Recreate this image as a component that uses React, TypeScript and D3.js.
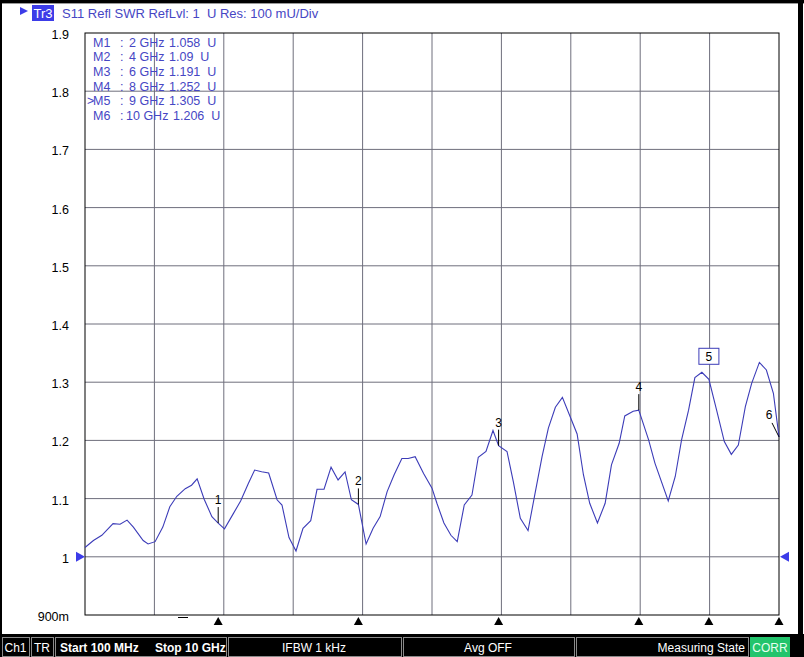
import React from 'react';
import * as d3 from 'd3';

// trace S11 SWR (GHz / U)
const freqGHz = [
	0.1, 0.22, 0.34, 0.5, 0.6, 0.7, 0.79, 0.93, 1.0, 1.1, 1.21, 1.31, 1.41, 1.53, 1.62, 1.7, 1.8, 1.91,
	2.0, 2.09, 2.22, 2.32, 2.43, 2.52, 2.62, 2.72, 2.84, 2.91, 3.01, 3.11, 3.21, 3.32, 3.41, 3.51, 3.61,
	3.71, 3.81, 3.9, 4.0, 4.11, 4.21, 4.31, 4.41, 4.51, 4.62, 4.71, 4.81, 4.93, 5.05, 5.12, 5.22, 5.32,
	5.41, 5.51, 5.62, 5.71, 5.82, 5.92, 6.0, 6.12, 6.21, 6.31, 6.42, 6.52, 6.62, 6.71, 6.81, 6.91, 7.03,
	7.12, 7.21, 7.3, 7.41, 7.52, 7.61, 7.72, 7.8, 7.92, 8.0, 8.14, 8.23, 8.42, 8.52, 8.61, 8.71, 8.8,
	8.9, 9.0, 9.11, 9.22, 9.32, 9.42, 9.52, 9.61, 9.72, 9.82, 9.92, 10.0
];
const swrValues = [
	1.016, 1.028, 1.037, 1.057, 1.056, 1.063, 1.051, 1.028, 1.022, 1.026, 1.051, 1.086, 1.104, 1.117, 1.123, 1.134, 1.099, 1.069,
	1.058, 1.048, 1.075, 1.096, 1.126, 1.149, 1.146, 1.144, 1.098, 1.089, 1.033, 1.01, 1.049, 1.062, 1.116, 1.116, 1.154,
	1.132, 1.146, 1.098, 1.09, 1.022, 1.049, 1.069, 1.112, 1.141, 1.169, 1.169, 1.172, 1.143, 1.118, 1.092, 1.058, 1.037,
	1.026, 1.089, 1.106, 1.171, 1.181, 1.217, 1.191, 1.181, 1.129, 1.066, 1.045, 1.109, 1.172, 1.221, 1.257, 1.274, 1.238,
	1.211, 1.141, 1.092, 1.058, 1.092, 1.158, 1.195, 1.242, 1.25, 1.252, 1.201, 1.161, 1.096, 1.138, 1.201, 1.252, 1.308,
	1.317, 1.305, 1.252, 1.198, 1.176, 1.192, 1.258, 1.298, 1.334, 1.321, 1.281, 1.206
];

const markerNames = ['M1', 'M2', 'M3', 'M4', 'M5', 'M6'];
const markerFreqs = [2, 4, 6, 8, 9, 10];
const markerSwr = [1.058, 1.09, 1.191, 1.252, 1.305, 1.206];
const markerValueLabels = ['1.058', '1.09', '1.191', '1.252', '1.305', '1.206'];
const activeMarker = 4;

const yTickValues = [1.9, 1.8, 1.7, 1.6, 1.5, 1.4, 1.3, 1.2, 1.1, 1.0, 0.9];
const yTickLabels = ['1.9', '1.8', '1.7', '1.6', '1.5', '1.4', '1.3', '1.2', '1.1', '1', '900m'];

const headerText = 'S11 Refl SWR RefLvl: 1  U Res: 100 mU/Div';
const statusLabels = ['Ch1', 'TR', 'Start 100 MHz', 'Stop 10 GHz', 'IFBW 1 kHz', 'Avg OFF', 'Measuring State', 'CORR'];

class App extends React.Component {
	componentDidMount() {
		this.drawChart();
	}

	drawChart() {
		const w = 804;
		const h = 657;
		const left = 85, right = 779, top = 33, bottom = 615;
		const blue = '#4646c4';
		const gridColor = '#6e6e7c';
		const font = '"Liberation Sans", Arial, sans-serif';

		const root = d3.select('#chart');
		root.selectAll('*').remove();

		const svg = root
			.append('svg')
			.attr('width', w)
			.attr('height', h)
			.style('position', 'absolute')
			.style('left', '0px')
			.style('top', '0px')
			.style('font-family', font);

		const xScale = d3.scaleLinear().domain([0.1, 10]).range([left, right]);
		const yScale = d3.scaleLinear().domain([0.9, 1.9]).range([bottom, top]);

		// screen frame
		svg.append('rect').attr('width', w).attr('height', h).attr('fill', 'white');
		svg.append('rect').attr('x', 0).attr('y', 0).attr('width', w).attr('height', 3).attr('fill', 'black');
		svg.append('rect').attr('x', 0).attr('y', 3).attr('width', w).attr('height', 1).attr('fill', '#999');
		svg.append('rect').attr('x', 0).attr('y', 0).attr('width', 2).attr('height', h).attr('fill', 'black');
		svg.append('rect').attr('x', 798).attr('y', 0).attr('width', 5).attr('height', h).attr('fill', 'black');

		// header
		svg.append('path')
			.attr('d', 'M20,7 L28,11 L20,15 Z')
			.attr('fill', '#3c3ce8');
		svg.append('rect').attr('x', 32).attr('y', 5).attr('width', 22).attr('height', 16).attr('fill', '#3c3ce8');
		svg.append('text')
			.attr('x', 43).attr('y', 18)
			.attr('text-anchor', 'middle')
			.attr('font-size', 13)
			.attr('fill', 'white')
			.text('Tr3');
		svg.append('text')
			.attr('x', 62).attr('y', 18)
			.attr('font-size', 13)
			.attr('fill', blue)
			.style('white-space', 'pre')
			.text(headerText);

		// grid
		const xGrid = d3.range(11).map(i => 0.1 + i * 0.99);
		svg.selectAll('line.vgrid')
			.data(xGrid.slice(1, 10))
			.enter()
			.append('line')
			.attr('class', 'vgrid')
			.attr('x1', d => xScale(d)).attr('x2', d => xScale(d))
			.attr('y1', top).attr('y2', bottom)
			.attr('stroke', gridColor)
			.attr('stroke-width', 1);
		svg.selectAll('line.hgrid')
			.data(yTickValues.slice(1, 10))
			.enter()
			.append('line')
			.attr('class', 'hgrid')
			.attr('x1', left).attr('x2', right)
			.attr('y1', d => yScale(d)).attr('y2', d => yScale(d))
			.attr('stroke', gridColor)
			.attr('stroke-width', 1);
		svg.append('rect')
			.attr('x', left).attr('y', top)
			.attr('width', right - left).attr('height', bottom - top)
			.attr('fill', 'none')
			.attr('stroke', 'black')
			.attr('stroke-width', 1);

		// y labels
		svg.selectAll('text.ylab')
			.data(yTickValues)
			.enter()
			.append('text')
			.attr('class', 'ylab')
			.attr('x', 69)
			.attr('y', d => yScale(d) + 6)
			.attr('text-anchor', 'end')
			.attr('font-size', 12.5)
			.attr('fill', 'black')
			.text((d, i) => yTickLabels[i]);

		// reference level arrows
		const refY = yScale(1);
		svg.append('path')
			.attr('d', `M${left - 9},${refY - 5} L${left},${refY} L${left - 9},${refY + 5} Z`)
			.attr('fill', '#3c3ce8');
		svg.append('path')
			.attr('d', `M${right + 10},${refY - 5} L${right + 1},${refY} L${right + 10},${refY + 5} Z`)
			.attr('fill', '#3c3ce8');

		// trace
		const line = d3.line<number>()
			.x((d, i) => xScale(freqGHz[i]))
			.y(d => yScale(d));
		svg.append('path')
			.datum(swrValues)
			.attr('d', line)
			.attr('fill', 'none')
			.attr('stroke', '#3c3cb8')
			.attr('stroke-width', 1.1);

		// markers on trace
		markerFreqs.forEach((f, i) => {
			const mx = xScale(f);
			const my = yScale(markerSwr[i]);
			const num = String(i + 1);
			if (i === activeMarker) {
				svg.append('rect')
					.attr('x', mx - 10).attr('y', my - 31)
					.attr('width', 20).attr('height', 16)
					.attr('fill', 'white')
					.attr('stroke', '#3c3cb8');
				svg.append('text')
					.attr('x', mx).attr('y', my - 18)
					.attr('text-anchor', 'middle')
					.attr('font-size', 12)
					.attr('fill', 'black')
					.text(num);
			} else if (f >= 10) {
				svg.append('line')
					.attr('x1', mx - 7).attr('y1', my - 14)
					.attr('x2', mx).attr('y2', my)
					.attr('stroke', 'black');
				svg.append('text')
					.attr('x', mx - 10).attr('y', my - 18)
					.attr('text-anchor', 'middle')
					.attr('font-size', 12)
					.attr('fill', 'black')
					.text(num);
			} else {
				svg.append('line')
					.attr('x1', mx).attr('y1', my - 16)
					.attr('x2', mx).attr('y2', my)
					.attr('stroke', 'black');
				svg.append('text')
					.attr('x', mx).attr('y', my - 19)
					.attr('text-anchor', 'middle')
					.attr('font-size', 12)
					.attr('fill', 'black')
					.text(num);
			}
		});

		// marker triangles below the diagram
		svg.selectAll('path.mtri')
			.data(markerFreqs)
			.enter()
			.append('path')
			.attr('class', 'mtri')
			.attr('d', d => {
				const mx = xScale(d);
				return `M${mx - 4.5},${bottom + 10} L${mx},${bottom + 2} L${mx + 4.5},${bottom + 10} Z`;
			})
			.attr('fill', 'black');
		svg.append('line')
			.attr('x1', 178).attr('x2', 188)
			.attr('y1', bottom + 2.5).attr('y2', bottom + 2.5)
			.attr('stroke', 'black')
			.attr('stroke-width', 1);

		// marker list
		const rowY = (i: number) => 46.5 + i * 14.7;
		markerNames.forEach((name, i) => {
			const f = markerFreqs[i];
			const g = svg.append('g').attr('fill', blue).attr('font-size', 12.5);
			if (i === activeMarker) {
				g.append('text').attr('x', 87).attr('y', rowY(i)).text('>');
			}
			g.append('text').attr('x', 93).attr('y', rowY(i)).text(name);
			g.append('text').attr('x', 120).attr('y', rowY(i)).text(':');
			g.append('text').attr('x', f >= 10 ? 126 : 129).attr('y', rowY(i)).text(`${f} GHz`);
			g.append('text')
				.attr('x', f >= 10 ? 173 : 169)
				.attr('y', rowY(i))
				.style('white-space', 'pre')
				.text(`${markerValueLabels[i]}  U`);
		});

		// status bar
		svg.append('rect').attr('x', 0).attr('y', 634).attr('width', w).attr('height', h - 634).attr('fill', 'black');
		const boxes = [
			{ x0: 2, x1: 29 },
			{ x0: 31, x1: 53 },
			{ x0: 55, x1: 226 },
			{ x0: 228, x1: 401 },
			{ x0: 403, x1: 574 },
			{ x0: 576, x1: 748 }
		];
		boxes.forEach(b => {
			svg.append('rect')
				.attr('x', b.x0 + 0.5).attr('y', 637.5)
				.attr('width', b.x1 - b.x0).attr('height', 19)
				.attr('fill', 'black')
				.attr('stroke', '#8a8a8a');
		});
		svg.append('rect').attr('x', 750).attr('y', 637).attr('width', 40).attr('height', 20).attr('fill', '#22c46c');

		const sb = svg.append('g').attr('font-size', 12).attr('fill', 'white');
		sb.append('text').attr('x', 15.5).attr('y', 652).attr('text-anchor', 'middle').text(statusLabels[0]);
		sb.append('text').attr('x', 42).attr('y', 652).attr('text-anchor', 'middle').text(statusLabels[1]);
		sb.append('text').attr('x', 60).attr('y', 652).attr('font-weight', 'bold').text(statusLabels[2]);
		sb.append('text').attr('x', 155).attr('y', 652).attr('font-weight', 'bold').text(statusLabels[3]);
		sb.append('text').attr('x', 314).attr('y', 652).attr('text-anchor', 'middle').text(statusLabels[4]);
		sb.append('text').attr('x', 488).attr('y', 652).attr('text-anchor', 'middle').text(statusLabels[5]);
		sb.append('text').attr('x', 745).attr('y', 652).attr('text-anchor', 'end').text(statusLabels[6]);
		sb.append('text').attr('x', 770).attr('y', 652).attr('text-anchor', 'middle').attr('fill', '#e8fff0').text(statusLabels[7]);
	}

	render() {
		return (
			<div id="chart" />
		);
	}
}

export default App;
